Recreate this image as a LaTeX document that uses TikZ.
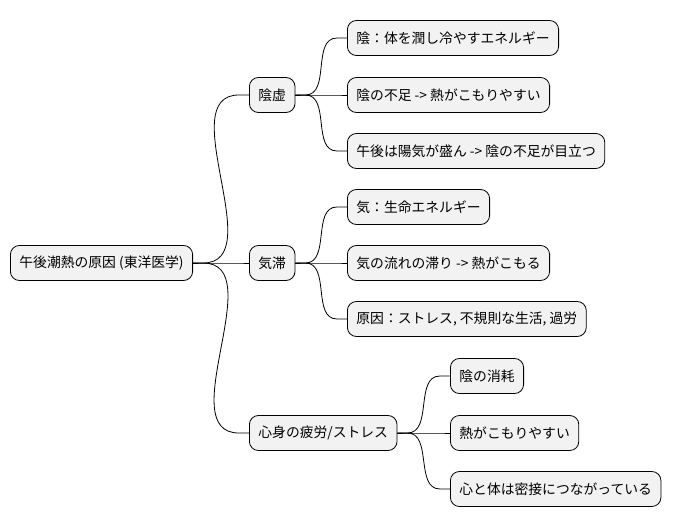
\documentclass[tikz,border=0pt]{standalone}
\usepackage{fontspec}
\setmainfont{Noto Sans CJK JP}
\usetikzlibrary{positioning}
\begin{document}
\begin{tikzpicture}[x=1pt, y=-1pt,
        topic/.style={rectangle, draw, line width=0.8pt, fill=gray!10, rounded corners=9pt, minimum height=35pt, inner xsep=9pt, font=\fontsize{13.8}{16}\selectfont, anchor=west},
        link/.style={black, line width=0.8pt}
    ]
    \useasboundingbox (0,0) rectangle (677,527);

    % Root
    \node[topic] (root) at (10,263) {午後潮熱の原因 (東洋医学)};

    % Branches
    \node[topic] (yin) at (249,95) {陰虚};
    \node[topic] (qi) at (249,263) {気滞};
    \node[topic] (stress) at (249,433) {心身の疲労/ストレス};

    % Leaves
    \node[topic] (yin1) at (347,38) {陰：体を潤し冷やすエネルギー};
    \node[topic] (yin2) at (347,95) {陰の不足 -> 熱がこもりやすい};
    \node[topic] (yin3) at (347,151) {午後は陽気が盛ん -> 陰の不足が目立つ};
    \node[topic] (qi1) at (347,207) {気：生命エネルギー};
    \node[topic] (qi2) at (347,263) {気の流れの滞り -> 熱がこもる};
    \node[topic] (qi3) at (347,319) {原因：ストレス, 不規則な生活, 過労};
    \node[topic] (st1) at (450,376) {陰の消耗};
    \node[topic] (st2) at (450,433) {熱がこもりやすい};
    \node[topic] (st3) at (450,489) {心と体は密接につながっている};

    % Connectors
    \foreach \a/\b in {root/yin, root/qi, root/stress,
                       yin/yin1, yin/yin2, yin/yin3,
                       qi/qi1, qi/qi2, qi/qi3,
                       stress/st1, stress/st2, stress/st3}
        \draw[link] (\a.east) -- ++(10,0) to[out=0, in=180] ([xshift=-10pt]\b.west) -- (\b.west);
\end{tikzpicture}
\end{document}
